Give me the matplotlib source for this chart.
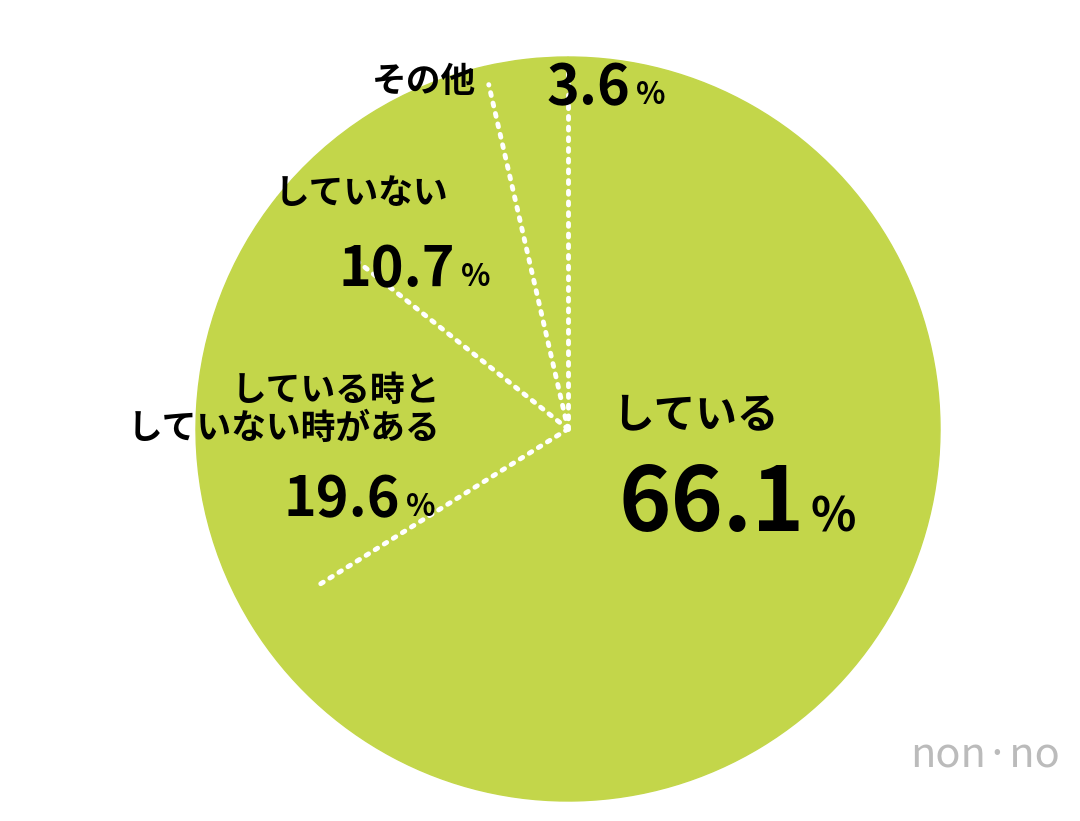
import matplotlib.pyplot as plt
import numpy as np

plt.rcParams['font.family'] = ['Noto Sans CJK JP', 'DejaVu Sans']

labels = ['している', 'している時と\nしていない時がある', 'していない', 'その他']
values = [66.1, 19.6, 10.7, 3.6]
pct_text = ['66.1', '19.6', '10.7', '3.6']

fig = plt.figure(figsize=(10.8, 8.21), dpi=100)
ax = fig.add_axes([0, 0, 1, 1])

cx, cy, r = 568, 392, 372
ax.pie(values, startangle=90, counterclock=False, colors=['#c3d64a'] * 4,
       center=(cx, cy), radius=r, frame=True,
       wedgeprops=dict(linewidth=1, edgecolor='#c3d64a'))
ax.set_xlim(0, 1080)
ax.set_ylim(0, 821)
ax.set_aspect('equal')
ax.axis('off')

# dotted separators
ang = 90 - np.cumsum([0] + values[:-1]) / 100 * 360
lens = [r * 0.96, r * 0.8, r * 0.72, r * 0.95]
for a, L in zip(ang, lens):
    t = np.deg2rad(a)
    ax.plot([cx, cx + L * np.cos(t)], [cy, cy + L * np.sin(t)],
            color='white', lw=3.5, linestyle=(0, (0.6, 1.6)),
            dash_capstyle='round')

def pct(xr, y, num, nsize, psize):
    ax.text(xr, y, num, fontsize=nsize, fontweight='bold', ha='right', va='baseline')
    ax.text(xr + 6, y, '%', fontsize=psize, fontweight='bold', ha='left', va='baseline')

# している
ax.text(612, 385, labels[0], fontsize=30, fontweight='bold', va='bottom')
pct(805, 290, pct_text[0], 64, 34)
# 19.6
ax.text(440, 375, labels[1], fontsize=25, fontweight='bold', ha='right',
        va='bottom', linespacing=1.1)
pct(400, 305, pct_text[1], 40, 22)
# 10.7
ax.text(275, 610, labels[2], fontsize=25, fontweight='bold', va='bottom')
pct(455, 535, pct_text[2], 40, 22)
# その他
ax.text(372, 722, labels[3], fontsize=25, fontweight='bold', va='bottom')
pct(630, 717, pct_text[3], 40, 22)

ax.text(1060, 45, 'non·no', fontsize=30, color='#bbbbbb', ha='right', va='bottom')

fig.savefig('out.png', dpi=100, facecolor='white')
